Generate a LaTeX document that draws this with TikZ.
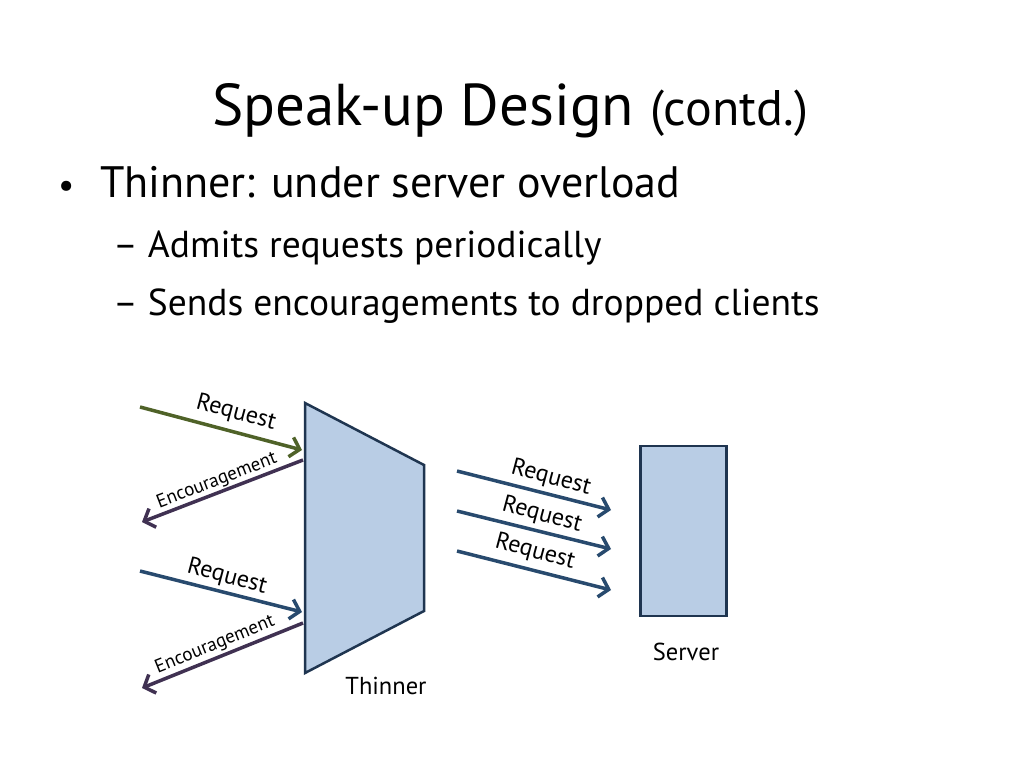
\documentclass[tikz,border=0pt]{standalone}
\usepackage{fontspec}
\setmainfont{PT Sans}
\usetikzlibrary{arrows.meta}
\definecolor{boxfill}{HTML}{B9CDE5}
\definecolor{boxdraw}{HTML}{1F3550}
\definecolor{reqgreen}{HTML}{4F6228}
\definecolor{encpurple}{HTML}{403152}
\definecolor{reqblue}{HTML}{284A6E}
\begin{document}
\begin{tikzpicture}[x=1pt,y=-1pt,
  shapebox/.style={draw=boxdraw, fill=boxfill, line width=2.5pt, line join=miter},
  flow/.style={line width=3.5pt, -{Straight Barb[length=9pt,width=20pt]}},
  lbl/.style={inner sep=0pt, font=\fontsize{24}{28}\selectfont},
  enclbl/.style={inner sep=0pt, font=\fontsize{19}{22}\selectfont},
  caption/.style={inner sep=0pt, font=\fontsize{24.5}{28}\selectfont},
  txt/.style={inner sep=0pt, anchor=base west}]
\useasboundingbox (0,0) rectangle (1024,768);
\fill[white] (0,0) rectangle (1024,768);

% title and bullets
\node[txt, font=\fontsize{59}{70}\selectfont] (title) at (212,125) {Speak-up Design};
\node[txt, font=\fontsize{50}{60}\selectfont] (contd) at (650,125) {(contd.)};
\node[txt, font=\fontsize{36}{44}\selectfont] (b0) at (58,197) {•};
\node[txt, font=\fontsize{44}{52}\selectfont] (b1) at (100,197) {Thinner: under server overload};
\node[txt, font=\fontsize{37.5}{46}\selectfont] (b2) at (113,257) {– Admits requests periodically};
\node[txt, font=\fontsize{37.5}{46}\selectfont] (b3) at (113,315) {– Sends encouragements to dropped clients};

% thinner
\draw[shapebox] (305,403) -- (424,465) -- (424,611) -- (305,673) -- cycle;
\node[caption] (thinlbl) at (386,686) {Thinner};

% server
\node[shapebox, minimum width=86pt, minimum height=170pt, inner sep=0pt] (server) at (683.5,531) {};
\node[caption] (servlbl) at (686,652) {Server};

% left endpoints
\coordinate (r1s) at (140,407);
\coordinate (r1e) at (302,450);
\coordinate (e1s) at (303,460);
\coordinate (e1e) at (142,522);
\coordinate (r2s) at (140,571);
\coordinate (r2e) at (302,612);
\coordinate (e2s) at (303,623);
\coordinate (e2e) at (142,688);

\draw[flow, reqgreen] (r1s) -- (r1e);
\draw[flow, encpurple] (e1s) -- (e1e);
\draw[flow, reqblue] (r2s) -- (r2e);
\draw[flow, encpurple] (e2s) -- (e2e);

\node[lbl, rotate=-15] (lr1) at (236,413) {Request};
\node[enclbl, rotate=21] (le1) at (217,481) {Encouragement};
\node[lbl, rotate=-15] (lr2) at (227,577) {Request};
\node[enclbl, rotate=22] (le2) at (215,645) {Encouragement};

% right arrows
\coordinate (a1s) at (457,471);
\coordinate (a1e) at (611,510);
\coordinate (a2s) at (457,511);
\coordinate (a2e) at (611,549);
\coordinate (a3s) at (457,551);
\coordinate (a3e) at (611,590);
\draw[flow, reqblue] (a1s) -- (a1e);
\draw[flow, reqblue] (a2s) -- (a2e);
\draw[flow, reqblue] (a3s) -- (a3e);
\node[lbl, rotate=-15] (ra1) at (551,478) {Request};
\node[lbl, rotate=-15] (ra2) at (542,515) {Request};
\node[lbl, rotate=-15] (ra3) at (535,552) {Request};
\end{tikzpicture}
\end{document}
